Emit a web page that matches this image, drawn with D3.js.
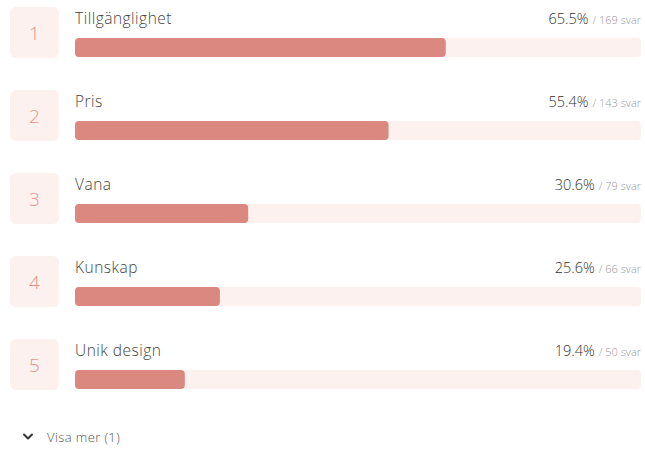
<!DOCTYPE html>
<html>
<head>
<meta charset="utf-8">
<script src="https://cdn.jsdelivr.net/npm/d3@7"></script>
<style>
  html, body { margin: 0; padding: 0; background: #fff; }
  svg { display: block; font-family: "Open Sans", "Noto Sans", sans-serif; }
</style>
</head>
<body>
<svg id="chart" width="645" height="449"></svg>
<script>
// Survey answers, ranked
const ranks = [1, 2, 3, 4, 5];
const categories = ["Tillgänglighet", "Pris", "Vana", "Kunskap", "Unik design"];
const percents = [65.5, 55.4, 30.6, 25.6, 19.4];
const counts = [169, 143, 79, 66, 50];
const moreLabel = "Visa mer (1)";

const svg = d3.select("#chart");

const rowPitch = 83;
const top0 = 7;
const barLeft = 75, barRight = 641;
const barH = 19;

const x = d3.scaleLinear().domain([0, 100]).range([barLeft, barRight]);
const y = d3.scaleBand().domain(d3.range(categories.length))
  .range([top0, top0 + rowPitch * categories.length]).paddingInner(0).paddingOuter(0);

const rows = svg.selectAll("g.row")
  .data(categories.map((c, i) => ({ c, i, rank: ranks[i], p: percents[i], n: counts[i] })))
  .join("g")
  .attr("class", "row")
  .attr("transform", d => `translate(0,${y(d.i)})`);

// rank badge
rows.append("rect")
  .attr("x", 10).attr("y", 0)
  .attr("width", 49).attr("height", 51)
  .attr("rx", 6)
  .attr("fill", "#fdf1ef");

rows.append("text")
  .attr("x", 34.5).attr("y", 26)
  .attr("text-anchor", "middle")
  .attr("dominant-baseline", "central")
  .attr("font-size", 19)
  .attr("font-weight", 300)
  .attr("fill", "#e2958b")
  .text(d => d.rank);

// category label
rows.append("text")
  .attr("x", barLeft).attr("y", 17)
  .attr("font-size", 15.5)
  .attr("font-weight", 300)
  .attr("letter-spacing", 0.5)
  .attr("fill", "#444")
  .text(d => d.c);

// percentage and count
const val = rows.append("text")
  .attr("x", barRight).attr("y", 17)
  .attr("text-anchor", "end")
  .attr("fill", "#555");
val.append("tspan").attr("font-size", 14.5).attr("font-weight", 300).attr("fill", "#333")
  .text(d => d.p.toFixed(1) + "%");
val.append("tspan").attr("font-size", 11).attr("font-weight", 300).attr("fill", "#999").attr("dx", 4)
  .text(d => "/ " + d.n + " svar");

// track and bar
rows.append("rect")
  .attr("x", x(0)).attr("y", 31)
  .attr("width", x(100) - x(0)).attr("height", barH)
  .attr("rx", 4)
  .attr("fill", "#fdf1ef");

rows.append("rect")
  .attr("x", x(0)).attr("y", 31)
  .attr("width", d => x(d.p) - x(0)).attr("height", barH)
  .attr("rx", 4)
  .attr("fill", "#db8880");

// "show more" toggle
const more = svg.append("g").attr("transform", "translate(0,437)");
more.append("path")
  .attr("d", "M24,-2.5 L28,1.5 L32,-2.5")
  .attr("fill", "none")
  .attr("stroke", "#333")
  .attr("stroke-width", 2)
  .attr("stroke-linecap", "round")
  .attr("stroke-linejoin", "round");
more.append("text")
  .attr("x", 47).attr("y", 5)
  .attr("font-size", 13)
  .attr("font-weight", 300)
  .attr("letter-spacing", 0.4)
  .attr("fill", "#555")
  .text(moreLabel);
</script>
</body>
</html>
